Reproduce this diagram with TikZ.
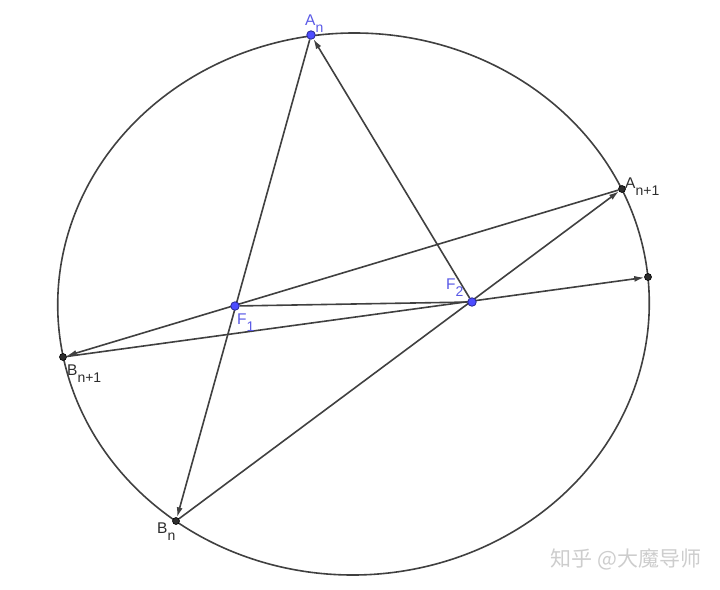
\documentclass[tikz,border=0pt]{standalone}
\usepackage{fontspec}
\setmainfont{Liberation Sans}
\newfontfamily\cjkfont{Noto Sans CJK SC}
\usetikzlibrary{arrows.meta,backgrounds}
\definecolor{ln}{RGB}{64,64,64}
\definecolor{ptblue}{RGB}{77,77,255}
\definecolor{ptborder}{RGB}{40,40,150}
\definecolor{lblblue}{RGB}{90,90,230}
\definecolor{dk}{RGB}{45,45,45}
\definecolor{wm}{RGB}{205,205,205}
\newcommand\lblsub[1]{\raisebox{-7pt}{\fontsize{14}{14}\selectfont #1}}
\begin{document}
\begin{tikzpicture}[x=1pt,y=-1pt,
  curve/.style={draw=ln,line width=1.6pt},
  arr/.style={curve,-{Latex[length=10pt,width=6pt]}},
  bluept/.style={circle,fill=ptblue,draw=ptborder,line width=0.8pt,inner sep=0pt,minimum size=8.5pt},
  dkpt/.style={circle,fill=dk,draw=black,line width=0.6pt,inner sep=0pt,minimum size=7pt},
  lbl/.style={anchor=base west,inner sep=0pt,font=\fontsize{15.5}{15.5}\selectfont},
]
\useasboundingbox (0,0) rectangle (720,589);
% points
\node[bluept] (An)  at (311,35)  {};
\node[bluept] (F1)  at (235,306) {};
\node[bluept] (F2)  at (472,302) {};
\node[dkpt]   (An1) at (622,189) {};
\node[dkpt]   (R)   at (648,277) {};
\node[dkpt]   (Bn1) at (63,357)  {};
\node[dkpt]   (Bn)  at (176,521) {};
\begin{scope}[on background layer]
  \draw[curve] plot[domain=0:360,samples=361]
    ({353.5 + 295.8*cos(\x)*cos(-1) - 271*sin(\x)*sin(-1)},
     {304 + 295.8*cos(\x)*sin(-1) + 271*sin(\x)*cos(-1)});
  \draw[arr] (An) -- (Bn);
  \draw[arr] (F2) -- (An);
  \draw[arr] (Bn) -- (An1);
  \draw[arr] (An1) -- (Bn1);
  \draw[arr] (Bn1) -- (R);
  \draw[curve] (F1) -- (F2);
\end{scope}
% labels
\node[lbl,text=lblblue] (lAn)  at (305,25)  {A\lblsub{n}};
\node[lbl,text=lblblue] (lF1)  at (237,324) {F\lblsub{1}};
\node[lbl,text=lblblue] (lF2)  at (446,289) {F\lblsub{2}};
\node[lbl,text=dk]      (lAn1) at (625,188) {A\lblsub{n+1}};
\node[lbl,text=dk]      (lBn1) at (67,375)  {B\lblsub{n+1}};
\node[lbl,text=dk]      (lBn)  at (157,533) {B\lblsub{n}};
% watermark
\node[font=\cjkfont\fontsize{21}{21}\selectfont,text=wm] (wm) at (626,559) {知乎 @大魔导师};
\end{tikzpicture}
\end{document}
